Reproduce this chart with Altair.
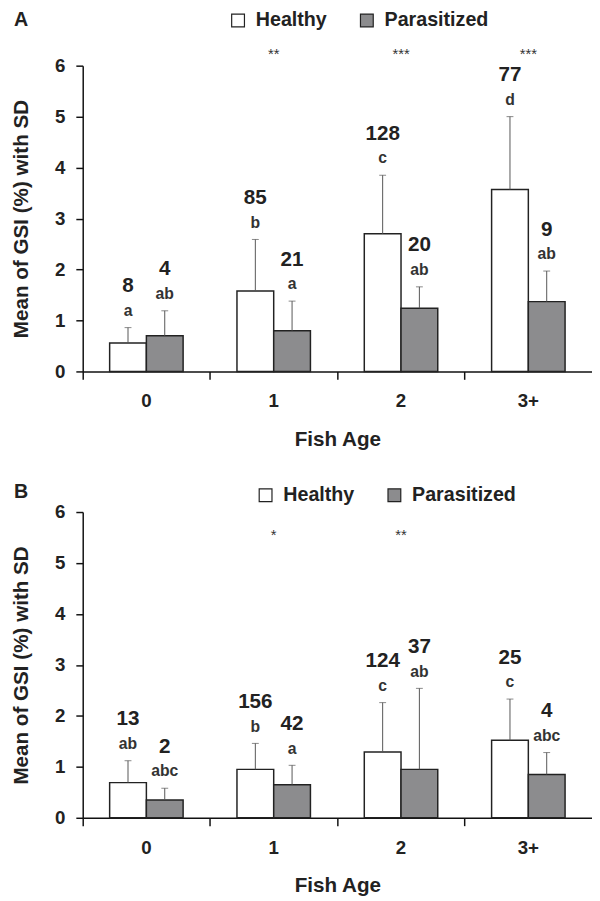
import altair as alt
import pandas as pd

FONT = "Liberation Sans"
ages = ["0", "1", "2", "3+"]
groups = ["Healthy", "Parasitized"]

# Panel A
a_healthy_mean = [0.56, 1.58, 2.70, 3.57]
a_healthy_upper = [0.86, 2.59, 3.85, 5.00]
a_para_mean = [0.70, 0.80, 1.24, 1.37]
a_para_upper = [1.19, 1.38, 1.66, 1.97]
a_healthy_n = ["8", "85", "128", "77"]
a_para_n = ["4", "21", "20", "9"]
a_healthy_letters = ["a", "b", "c", "d"]
a_para_letters = ["ab", "a", "ab", "ab"]
a_stars = ["", "**", "***", "***"]
a_star_level = 6.23

# Panel B
b_healthy_mean = [0.69, 0.95, 1.29, 1.52]
b_healthy_upper = [1.12, 1.46, 2.26, 2.33]
b_para_mean = [0.35, 0.65, 0.95, 0.85]
b_para_upper = [0.58, 1.03, 2.54, 1.28]
b_healthy_n = ["13", "156", "124", "25"]
b_para_n = ["2", "42", "37", "4"]
b_healthy_letters = ["ab", "b", "c", "c"]
b_para_letters = ["abc", "a", "ab", "abc"]
b_stars = ["", "*", "**", ""]
b_star_level = 5.55

W = 518
H = 311


def make_df(hm, hu, pm, pu, hn, pn, hl, pl):
    rows = []
    for i, a in enumerate(ages):
        rows.append(dict(age=a, group="Healthy", mean=hm[i], upper=hu[i], n=hn[i], letter=hl[i]))
        rows.append(dict(age=a, group="Parasitized", mean=pm[i], upper=pu[i], n=pn[i], letter=pl[i]))
    return pd.DataFrame(rows)


def panel(df, stars, star_level, label, legend_x, legend_y, title_offset):
    x_axis = alt.Axis(
        title="Fish Age", bandPosition=0, labelAngle=0,
        tickSize=8, labelPadding=13, titlePadding=18,
        labelFontSize=19, titleFontSize=21,
    )
    y_axis = alt.Axis(
        title="Mean of GSI (%) with SD", values=[0, 1, 2, 3, 4, 5, 6],
        tickSize=7, labelPadding=11, titlePadding=24,
        labelFontSize=19, titleFontSize=21,
    )
    xs = alt.Scale(paddingInner=0, paddingOuter=0)
    ys = alt.Scale(domain=[0, 6], nice=False)
    x = alt.X("age:N", sort=ages, scale=xs, axis=x_axis)
    xo = alt.XOffset("group:N", sort=groups,
                     scale=alt.Scale(paddingInner=0, paddingOuter=0.733))

    base = alt.Chart(df)
    bars = base.mark_bar(stroke="#222", strokeWidth=1.5).encode(
        x=x, xOffset=xo,
        y=alt.Y("mean:Q", scale=ys, axis=y_axis),
        fill=alt.Fill("group:N", sort=groups,
                      scale=alt.Scale(domain=groups, range=["#ffffff", "#8c8c8e"]),
                      legend=alt.Legend(
                          title=None, orient="none", legendX=legend_x, legendY=legend_y,
                          direction="horizontal", symbolType="square", symbolSize=169,
                          symbolStrokeColor="#222", symbolStrokeWidth=1.2,
                          labelFont=FONT, labelFontSize=20, labelFontWeight="bold",
                          labelColor="#222", labelOffset=8, columnPadding=30, padding=0,
                      )),
    )
    err = base.mark_rule(color="#555", strokeWidth=1).encode(
        x=x, xOffset=xo,
        y=alt.Y("mean:Q", scale=ys, axis=y_axis), y2="upper:Q",
    )
    caps = base.mark_tick(color="#555", thickness=1, size=7).encode(
        x=x, xOffset=xo, y=alt.Y("upper:Q", scale=ys, axis=y_axis),
    )
    letters = base.mark_text(dy=-17, fontSize=16, fontWeight="bold", font=FONT,
                             color="#333", baseline="middle").encode(
        x=x, xOffset=xo, y=alt.Y("upper:Q", scale=ys, axis=y_axis), text="letter:N",
    )
    nums = base.mark_text(dy=-42, fontSize=21, fontWeight="bold", font=FONT,
                          color="#222", baseline="middle").encode(
        x=x, xOffset=xo, y=alt.Y("upper:Q", scale=ys, axis=y_axis), text="n:N",
    )
    sdf = pd.DataFrame({"age": ages, "star": stars, "level": [star_level] * len(ages)})
    star_txt = alt.Chart(sdf).mark_text(fontSize=15, font=FONT, color="#333",
                                        baseline="middle").encode(
        x=x, y=alt.Y("level:Q", scale=ys, axis=y_axis), text="star:N",
    )
    return alt.layer(bars, err, caps, letters, nums, star_txt).properties(
        width=W, height=H,
        title=alt.TitleParams(label, anchor="start", frame="group", dx=-70,
                              offset=title_offset,
                              fontSize=20, font=FONT, fontWeight="bold", color="#222"),
    )


dfa = make_df(a_healthy_mean, a_healthy_upper, a_para_mean, a_para_upper,
              a_healthy_n, a_para_n, a_healthy_letters, a_para_letters)
dfb = make_df(b_healthy_mean, b_healthy_upper, b_para_mean, b_para_upper,
              b_healthy_n, b_para_n, b_healthy_letters, b_para_letters)

pa = panel(dfa, a_stars, a_star_level, "A", 148, -56, -20)
pb = panel(dfb, b_stars, b_star_level, "B", 176, -27, -17)

chart = alt.vconcat(pa, pb, spacing=34).resolve_scale(
    fill="independent").resolve_legend(fill="independent").properties(
    padding={"left": 2, "top": -5, "right": 0, "bottom": 0}
).configure_view(stroke=None).configure_axis(
    grid=False, domainColor="#111", domainWidth=1.5, tickColor="#111", tickWidth=1.5,
    labelFont=FONT, titleFont=FONT, labelFontWeight="bold", titleFontWeight="bold",
    labelColor="#222", titleColor="#222",
)

chart.save("out.html", embed_options={"renderer": "svg", "actions": False})
